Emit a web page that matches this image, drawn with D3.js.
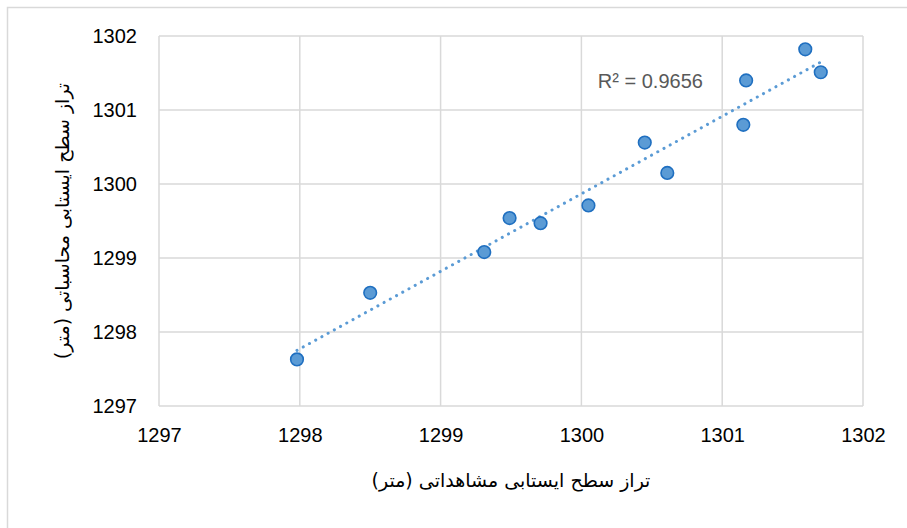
<!DOCTYPE html>
<html>
<head>
<meta charset="utf-8">
<script src="https://cdn.jsdelivr.net/npm/d3@7"></script>
<style>
  body { margin: 0; background: #fff; }
</style>
</head>
<body>
<div class="container"></div>
<script>
// Data
const observed = [1297.98, 1298.50, 1299.31, 1299.49, 1299.71, 1300.05, 1300.45, 1300.61, 1301.15, 1301.17, 1301.59, 1301.70]
const computed = [1297.63, 1298.53, 1299.08, 1299.54, 1299.47, 1299.71, 1300.56, 1300.15, 1300.80, 1301.40, 1301.82, 1301.51]
const xTicks = [1297, 1298, 1299, 1300, 1301, 1302]
const yTicks = [1297, 1298, 1299, 1300, 1301, 1302]
const r2Label = "R² = 0.9656"
const xTitle = "تراز سطح ایستابی مشاهداتی (متر)"
const yTitle = "تراز سطح ایستابی محاسباتی (متر)"

const data = observed.map((x, i) => ({x: x, y: computed[i]}))

let outerWidth = 907
let outerHeight = 528
let margin = {top: 36, bottom: 122, left: 159, right: 44}
let width = outerWidth - margin.left - margin.right
let height = outerHeight - margin.top - margin.bottom

const root = d3.select(".container")
    .append("svg")
    .attr("width", outerWidth)
    .attr("height", outerHeight)

// chart border
root.append("rect")
    .attr("x", 7.5)
    .attr("y", 7.5)
    .attr("width", 930)
    .attr("height", 560)
    .attr("fill", "white")
    .attr("stroke", "#d9d9d9")
    .attr("stroke-width", 1.5)

const svg = root.append("g")
    .attr("transform", `translate(${margin.left}, ${margin.top})`)

// Scales
const xScale = d3.scaleLinear()
    .domain([1297, 1302])
    .range([0, width])

const yScale = d3.scaleLinear()
    .domain([1297, 1302])
    .range([height, 0])

// Axes
const xAxis = d3.axisBottom(xScale)
    .tickValues(xTicks)
    .tickFormat(d3.format("d"))
    .tickSize(0)
    .tickPadding(22)

const yAxis = d3.axisLeft(yScale)
    .tickValues(yTicks)
    .tickFormat(d3.format("d"))
    .tickSize(0)
    .tickPadding(22)

let x = svg.append("g")
    .attr("class", "axis x-axis")
    .attr("transform", `translate(0, ${height})`)
    .call(xAxis)

let y = svg.append("g")
    .attr("class", "axis y-axis")
    .call(yAxis)

x.select(".domain").remove()
y.select(".domain").remove()

svg.selectAll(".axis text")
    .attr("font-family", "'Liberation Sans', Arial, sans-serif")
    .attr("font-size", 20)
    .attr("fill", "#000")

// Grid lines
svg.append("g")
    .selectAll("line")
    .data(xTicks)
    .join("line")
    .attr("x1", d => xScale(d))
    .attr("x2", d => xScale(d))
    .attr("y1", 0)
    .attr("y2", height)
    .attr("stroke", "#d9d9d9")
    .attr("stroke-width", 1.5)

svg.append("g")
    .selectAll("line")
    .data(yTicks)
    .join("line")
    .attr("x1", 0)
    .attr("x2", width)
    .attr("y1", d => yScale(d))
    .attr("y2", d => yScale(d))
    .attr("stroke", "#d9d9d9")
    .attr("stroke-width", 1.5)

// Linear trendline (least squares through the points)
const mx = d3.mean(data, d => d.x)
const my = d3.mean(data, d => d.y)
const slope = d3.sum(data, d => (d.x - mx) * (d.y - my)) / d3.sum(data, d => (d.x - mx) ** 2)
const intercept = my - slope * mx
const ext = d3.extent(data, d => d.x)
const trend = ext.map(v => ({x: v, y: intercept + slope * v}))

const line = d3.line()
    .x(d => xScale(d.x))
    .y(d => yScale(d.y))

svg.append("path")
    .datum(trend)
    .attr("d", line)
    .attr("fill", "none")
    .attr("stroke", "#5b9bd5")
    .attr("stroke-width", 3)
    .attr("stroke-linecap", "round")
    .attr("stroke-dasharray", "0.1 7")

// Points
svg.selectAll(".pt")
    .data(data)
    .join("circle")
    .attr("class", "pt")
    .attr("cx", d => xScale(d.x))
    .attr("cy", d => yScale(d.y))
    .attr("r", 6.3)
    .attr("fill", "#5b9bd5")
    .attr("stroke", "#1f6fc0")
    .attr("stroke-width", 1.6)

// R² label
svg.append("text")
    .text(r2Label)
    .attr("x", xScale(1300.49))
    .attr("y", yScale(1301.30))
    .attr("text-anchor", "middle")
    .attr("font-family", "'Liberation Sans', Arial, sans-serif")
    .attr("font-size", 20)
    .attr("fill", "#595959")

// Axis titles
root.append("text")
    .text(xTitle)
    .attr("x", 511)
    .attr("y", 487)
    .attr("text-anchor", "middle")
    .attr("direction", "rtl")
    .attr("font-family", "'DejaVu Sans', sans-serif")
    .attr("font-size", 19)
    .attr("fill", "#000")

root.append("text")
    .text(yTitle)
    .attr("transform", "translate(69, 221) rotate(-90)")
    .attr("text-anchor", "middle")
    .attr("direction", "rtl")
    .attr("font-family", "'DejaVu Sans', sans-serif")
    .attr("font-size", 19)
    .attr("fill", "#000")
</script>
</body>
</html>
